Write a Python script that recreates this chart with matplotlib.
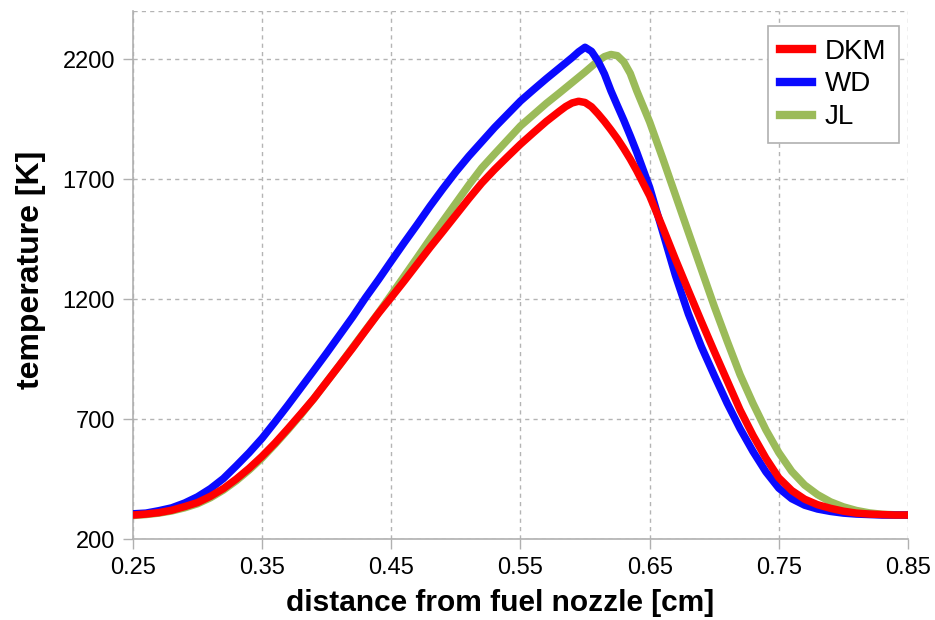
import matplotlib
matplotlib.use("Agg")
from matplotlib import pyplot as plt

# distance from fuel nozzle [cm]
distance = [0.25, 0.26, 0.27, 0.28, 0.29, 0.30, 0.31, 0.32, 0.33, 0.34,
            0.35, 0.36, 0.37, 0.38, 0.39, 0.40, 0.41, 0.42, 0.43, 0.44,
            0.45, 0.46, 0.47, 0.48, 0.49, 0.50, 0.51, 0.52, 0.53, 0.54,
            0.55, 0.56, 0.57, 0.58, 0.585, 0.59, 0.595, 0.60, 0.605, 0.61,
            0.615, 0.62, 0.625, 0.63, 0.635, 0.64,
            0.65, 0.66, 0.67, 0.68, 0.69, 0.70, 0.71, 0.72, 0.73, 0.74,
            0.75, 0.76, 0.77, 0.78, 0.79, 0.80, 0.81, 0.82, 0.83, 0.84,
            0.85]

# temperature [K]
dkm = [300, 304, 310, 320, 335, 352, 378, 410, 450, 495,
       545, 600, 660, 722, 785, 855, 925, 995, 1068, 1140,
       1207, 1275, 1345, 1415, 1482, 1550, 1618, 1683, 1740, 1793,
       1845, 1893, 1940, 1982, 2002, 2017, 2024, 2019, 2001, 1972,
       1940, 1905, 1868, 1827, 1783, 1735,
       1630, 1500, 1365, 1235, 1107, 982, 860, 738, 632, 537,
       455, 402, 366, 343, 328, 316, 308, 304, 302, 300,
       300]

wd = [305, 308, 318, 330, 350, 376, 410, 452, 505, 560,
      620, 688, 758, 830, 902, 975, 1050, 1125, 1205, 1280,
      1358, 1435, 1510, 1587, 1660, 1730, 1795, 1855, 1915, 1970,
      2025, 2072, 2118, 2162, 2184, 2206, 2230, 2249, 2232, 2192,
      2138, 2068, 2006, 1945, 1880, 1812,
      1665, 1482, 1298, 1138, 1002, 882, 766, 660, 565, 480,
      412, 368, 341, 325, 315, 308, 304, 302, 300, 300,
      300]

jl = [298, 302, 308, 317, 330, 347, 372, 404, 443, 488,
      538, 595, 655, 718, 785, 855, 925, 998, 1070, 1142,
      1218, 1295, 1372, 1450, 1525, 1600, 1675, 1746, 1805, 1863,
      1921, 1968, 2015, 2058, 2080, 2102, 2124, 2146, 2169, 2192,
      2210, 2219, 2214, 2188, 2140, 2068,
      1938, 1788, 1633, 1478, 1324, 1170, 1025, 885, 765, 655,
      560, 482, 425, 385, 355, 334, 319, 309, 303, 301,
      300]

x_ticks = [0.25, 0.35, 0.45, 0.55, 0.65, 0.75, 0.85]
y_ticks = [200, 700, 1200, 1700, 2200]

plt.rcParams['font.family'] = ['Liberation Sans', 'DejaVu Sans']

fig = plt.figure(figsize=(9.35, 6.2), dpi=100)
ax = fig.add_axes([0.1422, 0.1306, 0.8289, 0.8516])

ax.plot(distance, jl, color="#9bbb59", lw=5.4, label="JL", zorder=3)
ax.plot(distance, wd, color="#0a0aff", lw=5.4, label="WD", zorder=4)
ax.plot(distance, dkm, color="#ff0000", lw=5.4, label="DKM", zorder=5)

ax.set_xlim(0.25, 0.85)
ax.set_ylim(200, 2400)
ax.set_xticks(x_ticks)
ax.set_xticklabels(["%.2f" % t for t in x_ticks])
ax.set_yticks(y_ticks)
ax.set_yticks([2400], minor=True)
ax.tick_params(axis="both", which="major", labelsize=17, length=7, width=1,
               color="#b0b0b0", pad=6)
ax.tick_params(axis="y", which="minor", length=0)

ax.grid(True, which="both", color="#b4b4b4", linestyle=(0, (3, 3)), lw=1)
for side in ["left", "bottom"]:
    ax.spines[side].set_color("#b0b0b0")
    ax.spines[side].set_linewidth(1.2)
for side in ["top", "right"]:
    ax.spines[side].set_visible(False)

ax.set_xlabel("distance from fuel nozzle [cm]", fontsize=21.5, fontweight="bold")
ax.xaxis.set_label_coords(0.4735, -0.095)
ax.set_ylabel("temperature [K]", fontsize=23, fontweight="bold")
ax.yaxis.set_label_coords(-0.112, 0.51)

handles, labels = ax.get_legend_handles_labels()
order = [2, 1, 0]
leg = ax.legend([handles[i] for i in order], [labels[i] for i in order],
                loc="upper right", bbox_to_anchor=(0.988, 0.9716), fontsize=20,
                frameon=True, fancybox=False, framealpha=1, edgecolor="#b0b0b0",
                handlelength=1.15, handletextpad=0.45, labelspacing=0.25,
                borderpad=0.45, borderaxespad=0)
leg.get_frame().set_linewidth(1.2)
for line in leg.get_lines():
    line.set_linewidth(6)

fig.savefig("out.png", dpi=100)
